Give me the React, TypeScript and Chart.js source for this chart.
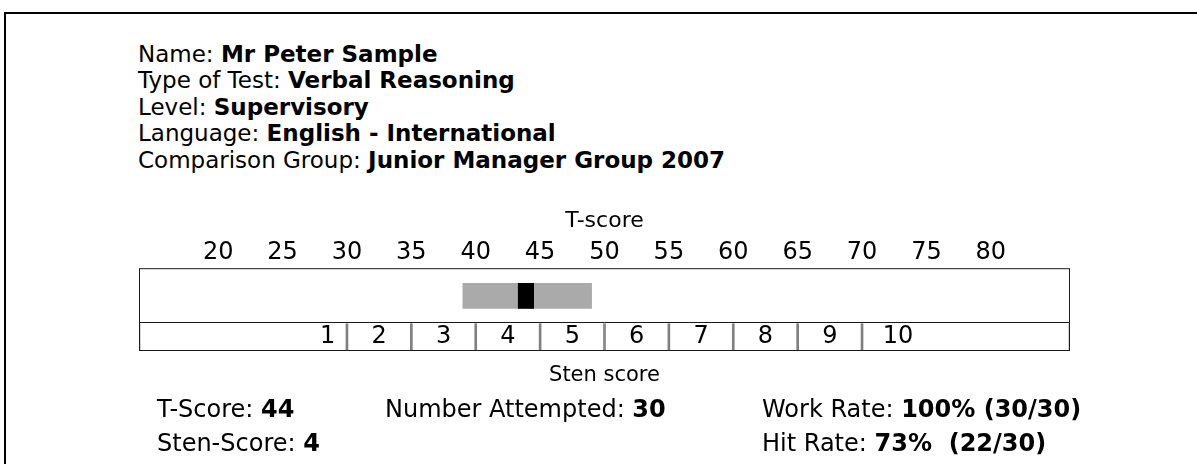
import React, { useEffect, useRef } from "react";
import { Chart, registerables } from "chart.js";

Chart.register(...registerables);

const FONT = '"DejaVu Sans", Verdana, sans-serif';

// Header information
const HEADER_LABELS = ["Name: ", "Type of Test: ", "Level: ", "Language: ", "Comparison Group: "];
const HEADER_VALUES = ["Mr Peter Sample", "Verbal Reasoning", "Supervisory", "English - International", "Junior Manager Group 2007"];

// T-score axis
const T_MIN = 13.85;
const T_MAX = 86.15;
const T_TICKS = [20, 25, 30, 35, 40, 45, 50, 55, 60, 65, 70, 75, 80];

// Score marks
const SCORE_BAND = [39, 49];
const SCORE_MARKER = [43.3, 44.5];

// Sten row
const STEN_BOUNDS = [30, 35, 40, 45, 50, 55, 60, 65, 70];
const STEN_LABELS = ["1", "2", "3", "4", "5", "6", "7", "8", "9", "10"];
const STEN_LABEL_POS = [28.5, 32.5, 37.5, 42.5, 47.5, 52.5, 57.5, 62.5, 67.5, 72.8];

// Bottom statistics
const STATS_LEFT = [["T-Score: ", "44"], ["Sten-Score: ", "4"]];
const STATS_MID = [["Number Attempted: ", "30"]];
const STATS_RIGHT = [["Work Rate: ", "100% (30/30)"], ["Hit Rate: ", "73%  (22/30)"]];

const framePlugin = {
  id: "frame",
  afterDatasetsDraw(chart: any) {
    const { ctx, chartArea: a, scales } = chart;
    ctx.save();
    ctx.strokeStyle = "#1a1a1a";
    ctx.lineWidth = 1;
    ctx.strokeRect(a.left + 0.5, a.top + 0.5, a.width - 1, a.height - 1);
    const ym = Math.round(scales.y.getPixelForValue(1)) - 0.5;
    ctx.beginPath();
    ctx.moveTo(a.left, ym);
    ctx.lineTo(a.right, ym);
    ctx.stroke();
    ctx.fillStyle = "#000";
    ctx.font = `24px ${FONT}`;
    ctx.textAlign = "center";
    ctx.textBaseline = "middle";
    const yl = scales.y.getPixelForValue(0.5);
    STEN_LABELS.forEach((t, i) => {
      ctx.fillText(t, scales.x.getPixelForValue(STEN_LABEL_POS[i]), yl);
    });
    ctx.restore();
  },
};

function ScoreChart() {
  const ref = useRef<HTMLCanvasElement | null>(null);
  useEffect(() => {
    if (!ref.current) return;
    Chart.defaults.font.family = FONT;
    const edges = [T_MIN, ...STEN_BOUNDS, T_MAX];
    const stenCells = edges.slice(0, -1).map((e, i) => ({ x: [e, edges[i + 1]], y: 0.5 }));
    const chart = new Chart(ref.current, {
      type: "bar",
      data: {
        datasets: [
          {
            label: "T-score",
            data: [{ x: SCORE_MARKER, y: 2 }] as any,
            backgroundColor: "#000000",
            barThickness: 25,
            stack: "row",
          },
          {
            label: "Band",
            data: [{ x: SCORE_BAND, y: 2 }] as any,
            backgroundColor: "#aaaaaa",
            barThickness: 25,
            stack: "row",
          },
          {
            label: "Sten",
            data: stenCells as any,
            backgroundColor: "rgba(0,0,0,0)",
            borderColor: "#808080",
            borderWidth: { left: 1, right: 1, top: 0, bottom: 0 },
            borderSkipped: false,
            barThickness: 28,
            stack: "row",
          },
        ],
      },
      options: {
        indexAxis: "y",
        animation: false,
        responsive: false,
        devicePixelRatio: 1,
        layout: { padding: { left: 10, right: 10, top: 8, bottom: 11.8 } },
        plugins: { legend: { display: false }, tooltip: { enabled: false } },
        scales: {
          x: {
            type: "linear",
            position: "top",
            min: T_MIN,
            max: T_MAX,
            stacked: false,
            afterBuildTicks: (s: any) => {
              s.ticks = T_TICKS.map((v) => ({ value: v }));
            },
            grid: { display: false, drawTicks: false, tickLength: 0 },
            border: { display: false },
            ticks: { font: { size: 24, family: FONT }, color: "#000", padding: 1, maxRotation: 0, autoSkip: false },
            title: { display: true, text: "T-score", font: { size: 22, family: FONT }, color: "#000", padding: { top: 0, bottom: 3 } },
          },
          x2: {
            type: "linear",
            position: "bottom",
            min: T_MIN,
            max: T_MAX,
            grid: { display: false, drawTicks: false, tickLength: 0 },
            border: { display: false },
            ticks: { display: false },
            title: { display: true, text: "Sten score", font: { size: 21, family: FONT }, color: "#000", padding: { top: 12, bottom: 0 } },
          },
          y: { type: "linear", min: 0, max: 3, display: false, offset: false, grid: { offset: false } },
        },
      } as any,
      plugins: [framePlugin],
    });
    return () => chart.destroy();
  }, []);
  return (
    <canvas ref={ref} width={951} height={200} style={{ position: "absolute", left: 129, top: 200, width: 951, height: 200 }} />
  );
}

function StatCol({ rows, left }: { rows: string[][]; left: number }) {
  return (
    <div style={{ position: "absolute", left, top: 393.3, fontSize: 24, lineHeight: "33.4px", whiteSpace: "pre" }}>
      {rows.map(([l, v], i) => (
        <div key={i}>
          {l}
          <b>{v}</b>
        </div>
      ))}
    </div>
  );
}

export default function App() {
  return (
    <div
      style={{
        position: "absolute",
        left: 0,
        top: 0,
        width: 1197,
        height: 464,
        overflow: "hidden",
        background: "#fff",
        fontFamily: FONT,
        color: "#000",
      }}
    >
      <div
        style={{
          position: "absolute",
          left: 4,
          top: 12,
          width: 1400,
          height: 700,
          borderLeft: "2px solid #000",
          borderTop: "2px solid #000",
        }}
      />
      <div style={{ position: "absolute", left: 138, top: 40.8, fontSize: 23, lineHeight: "26.5px", whiteSpace: "pre" }}>
        {HEADER_LABELS.map((l, i) => (
          <div key={i}>
            {l}
            <b>{HEADER_VALUES[i]}</b>
          </div>
        ))}
      </div>
      <ScoreChart />
      <StatCol rows={STATS_LEFT} left={157} />
      <StatCol rows={STATS_MID} left={385} />
      <StatCol rows={STATS_RIGHT} left={762} />
    </div>
  );
}
